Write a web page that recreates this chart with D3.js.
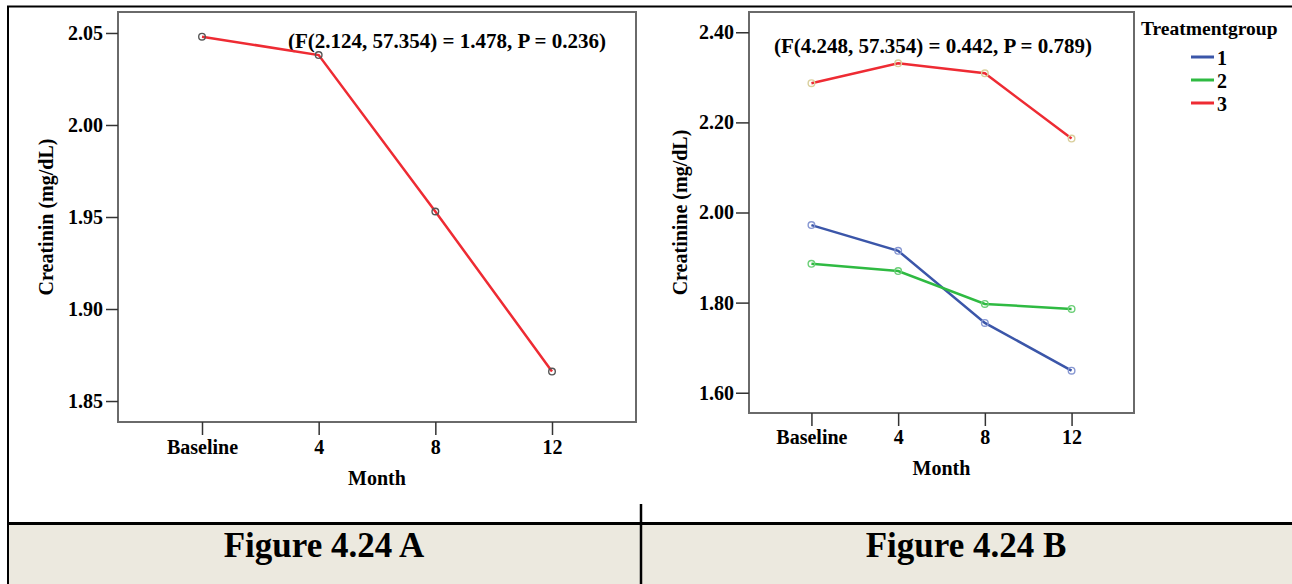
<!DOCTYPE html>
<html>
<head>
<meta charset="utf-8">
<script src="https://cdn.jsdelivr.net/npm/d3@7"></script>
<style>
  body { margin: 0; background: #fff; }
  svg text { font-family: "Liberation Serif", "Times New Roman", serif; font-weight: bold; fill: #000; }
</style>
</head>
<body>
<svg width="1292" height="584"></svg>
<script>
// Data
const months = ["Baseline", "4", "8", "12"];

// Figure A - overall creatinine
const creatininAll = [2.048, 2.038, 1.953, 1.866];
const ticksA = [1.85, 1.90, 1.95, 2.00, 2.05];

// Figure B - by treatment group
const groups = ["1", "2", "3"];
const group1 = [1.972, 1.915, 1.755, 1.649];
const group2 = [1.886, 1.870, 1.797, 1.786];
const group3 = [2.287, 2.331, 2.309, 2.164];
const ticksB = [1.60, 1.80, 2.00, 2.20, 2.40];

const groupColors = ["#3b56a9", "#2fba42", "#ee2b33"];
const markerColors = ["#8797d2", "#6ccf78", "#d9cf9c"];

const svg = d3.select("svg");
const fmt = d3.format(".2f");

// table frame and caption strip
svg.append("rect").attr("x", 8).attr("y", 524).attr("width", 1284).attr("height", 60).attr("fill", "#ece9df");
svg.append("line").attr("x1", 7).attr("x2", 1292).attr("y1", 6.5).attr("y2", 6.5).attr("stroke", "#000").attr("stroke-width", 2);
svg.append("line").attr("x1", 8).attr("x2", 8).attr("y1", 6).attr("y2", 584).attr("stroke", "#000").attr("stroke-width", 2);
svg.append("line").attr("x1", 7).attr("x2", 1292).attr("y1", 523.5).attr("y2", 523.5).attr("stroke", "#000").attr("stroke-width", 3);
svg.append("line").attr("x1", 641).attr("x2", 641).attr("y1", 504).attr("y2", 584).attr("stroke", "#000").attr("stroke-width", 2.5);

svg.append("text").attr("x", 324).attr("y", 557).attr("text-anchor", "middle")
  .style("font-size", "35px").text("Figure 4.24 A");
svg.append("text").attr("x", 966).attr("y", 557).attr("text-anchor", "middle")
  .style("font-size", "35px").text("Figure 4.24 B");

function drawPanel(p) {
  const g = svg.append("g");
  const x = d3.scalePoint().domain(months).range([p.left, p.right]).padding(0.72);
  const y = d3.scaleLinear().domain(p.yDomain).range([p.bottom, p.top]);

  // frame
  g.append("rect")
    .attr("x", p.left).attr("y", p.top)
    .attr("width", p.right - p.left).attr("height", p.bottom - p.top)
    .attr("fill", "none").attr("stroke", "#6a6a6a").attr("stroke-width", 2);

  const ya = g.append("g").attr("transform", `translate(${p.left},0)`)
    .call(d3.axisLeft(y).tickValues(p.ticks).tickFormat(fmt).tickSize(p.tick).tickSizeOuter(0).tickPadding(p.yPad));
  ya.select(".domain").remove();
  ya.selectAll("line").attr("stroke", "#333").attr("stroke-width", 1.5);
  ya.selectAll("text").style("font-size", "20px");

  const xa = g.append("g").attr("transform", `translate(0,${p.bottom})`)
    .call(d3.axisBottom(x).tickSize(13).tickSizeOuter(0).tickPadding(p.xPad));
  xa.select(".domain").remove();
  xa.selectAll("line").attr("stroke", "#333").attr("stroke-width", 1.5);
  xa.selectAll("text").style("font-size", "20px");

  g.append("text").attr("x", (p.left + p.right) / 2).attr("y", p.monthY)
    .attr("text-anchor", "middle").style("font-size", "20px").text("Month");

  g.append("text")
    .attr("transform", `translate(${p.labelX},${(p.top + p.bottom) / 2}) rotate(-90)`)
    .attr("text-anchor", "middle").style("font-size", "20px").text(p.yLabel);

  g.append("text").attr("x", p.noteX).attr("y", p.noteY)
    .style("font-size", "21px").text(p.note);

  const line = d3.line().x((d, i) => x(months[i])).y(d => y(d));
  p.series.forEach(s => {
    g.append("path").datum(s.values)
      .attr("fill", "none").attr("stroke", s.color).attr("stroke-width", 2.5)
      .attr("d", line);
    g.selectAll(null).data(s.values).join("circle")
      .attr("cx", (d, i) => x(months[i])).attr("cy", d => y(d))
      .attr("r", 3.3).attr("fill", "none")
      .attr("stroke", s.marker).attr("stroke-width", 1.4);
  });
}

drawPanel({
  left: 118, right: 636, top: 12, bottom: 422,
  yDomain: [1.8386, 2.0614], ticks: ticksA, tick: 12, yPad: 3, xPad: 5,
  monthY: 485, labelX: 53, yLabel: "Creatinin (mg/dL)",
  note: "(F(2.124, 57.354) = 1.478, P = 0.236)", noteX: 288, noteY: 48,
  series: [{ values: creatininAll, color: "#ee2b33", marker: "#555" }]
});

drawPanel({
  left: 749, right: 1134, top: 12, bottom: 413,
  yDomain: [1.555, 2.445], ticks: ticksB, tick: 13, yPad: 2, xPad: 4,
  monthY: 475, labelX: 687, yLabel: "Creatinine (mg/dL)",
  note: "(F(4.248, 57.354) = 0.442, P = 0.789)", noteX: 774, noteY: 53,
  series: [
    { values: group1, color: groupColors[0], marker: markerColors[0] },
    { values: group2, color: groupColors[1], marker: markerColors[1] },
    { values: group3, color: groupColors[2], marker: markerColors[2] }
  ]
});

// legend
const legend = svg.append("g");
legend.append("text").attr("x", 1141).attr("y", 35).style("font-size", "19.5px").text("Treatmentgroup");
groups.forEach((name, i) => {
  const cy = 57 + i * 23;
  legend.append("line").attr("x1", 1191).attr("x2", 1214).attr("y1", cy).attr("y2", cy)
    .attr("stroke", groupColors[i]).attr("stroke-width", 3);
  legend.append("text").attr("x", 1217).attr("y", cy + 8).style("font-size", "20px").text(name);
});
</script>
</body>
</html>
